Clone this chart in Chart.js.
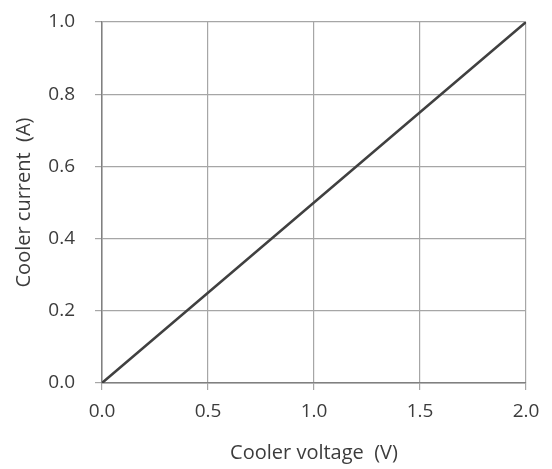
<!DOCTYPE html>
<html lang="en">
<head>
    <meta charset="UTF-8">
    <title>Cooler current vs voltage</title>
    <script src="https://cdn.jsdelivr.net/npm/chart.js"></script>
    <style>
        html, body { margin: 0; padding: 0; background: #fff; }
        #wrap { width: 552px; height: 469px; }
    </style>
</head>
<body>
    <div id="wrap"><canvas id="coolerChart" width="552" height="469"></canvas></div>

    <script>
        // values
        const voltage = [0.0, 0.5, 1.0, 1.5, 2.0];
        const current = [0.0, 0.25, 0.5, 0.75, 1.0];
        const xTitle = "Cooler voltage  (V)";
        const yTitle = "Cooler current  (A)";

        const points = voltage.map((v, i) => ({ x: v, y: current[i] }));
        const textColor = "#3c3c3c";
        const tickFont = { family: "'Open Sans', Lato, sans-serif", size: 19 };
        const titleFont = { family: "'Open Sans', Lato, sans-serif", size: 20 };

        new Chart(document.getElementById("coolerChart"), {
            type: "scatter",
            data: {
                datasets: [{
                    data: points,
                    showLine: true,
                    borderColor: "#404040",
                    borderWidth: 2.5,
                    pointRadius: 0,
                    fill: false
                }]
            },
            options: {
                responsive: false,
                animation: false,
                layout: { padding: { left: 0, top: 22, right: 26, bottom: 0 } },
                plugins: { legend: { display: false }, tooltip: { enabled: false } },
                scales: {
                    x: {
                        type: "linear",
                        min: 0, max: 2,
                        afterFit: s => { s.height = 86; s.paddingLeft = 0; s.paddingRight = 0; },
                        ticks: {
                            stepSize: 0.5, color: textColor, font: tickFont, padding: 10,
                            callback: v => v.toFixed(1)
                        },
                        grid: { color: "#a6a6a6", lineWidth: 1.2, tickLength: 7 },
                        border: { color: "#808080", width: 1.5 },
                        title: { display: true, text: xTitle, color: textColor, font: titleFont, padding: { top: 0, bottom: 4 } }
                    },
                    y: {
                        type: "linear",
                        min: 0, max: 1,
                        afterFit: s => { s.width = 102; s.paddingTop = 0; s.paddingBottom = 0; },
                        ticks: {
                            stepSize: 0.2, color: textColor, font: tickFont, padding: 20,
                            callback: v => v.toFixed(1)
                        },
                        grid: { color: "#a6a6a6", lineWidth: 1.2, tickLength: 7 },
                        border: { color: "#808080", width: 1.5 },
                        title: { display: true, text: yTitle, color: textColor, font: titleFont, padding: { top: 12, bottom: 0 } }
                    }
                }
            }
        });
    </script>
</body>
</html>
